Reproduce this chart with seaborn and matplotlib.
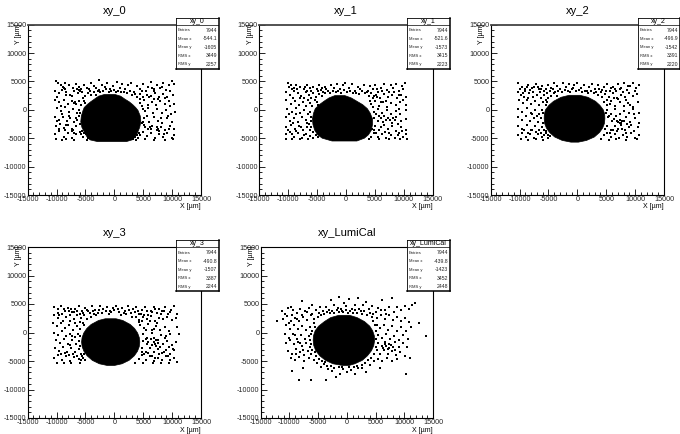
import matplotlib
matplotlib.use('Agg')
import matplotlib.pyplot as plt
import pandas as pd
import seaborn as sns

W, H = 680, 434

titles = ['xy_0', 'xy_1', 'xy_2', 'xy_3', 'xy_LumiCal']
mean_x = ['-544.1', '-521.6', '-496.9', '-490.8', '-439.8']
mean_y = ['-1605', '-1573', '-1542', '-1507', '-1423']
rms_x = ['3449', '3415', '3391', '3387', '3452']
rms_y = ['2257', '2223', '2220', '2244', '2448']
entries = '7944'

major_ticks = [-15000, -10000, -5000, 0, 5000, 10000, 15000]
major_labels = ['-15000', '-10000', '-5000', '0', '5000', '10000', '15000']
minor_ticks = [-14000, -13000, -12000, -11000, -9000, -8000, -7000, -6000, -4000, -3000, -2000, -1000,
               1000, 2000, 3000, 4000, 6000, 7000, 8000, 9000, 11000, 12000, 13000, 14000]

core_0 = [(2800, -1800, 0), (2500, -2800, 1000), (2000, -3500, 1700), (1500, -4200, 2500), (1000, -4800, 3100),
          (500, -5300, 3600), (0, -5500, 4000), (-1000, -5800, 4400), (-2000, -5900, 4500), (-3000, -5700, 4300),
          (-4000, -5200, 3900), (-4700, -4800, 3500), (-5200, -4300, 3000), (-5500, -3000, 2000)]
core_1 = [(2600, -2000, -300), (2200, -3000, 800), (1600, -3900, 1800), (1000, -4700, 2800), (300, -5400, 3600),
          (-500, -5700, 4100), (-1500, -5900, 4500), (-2500, -5800, 4500), (-3500, -5500, 4300), (-4300, -5000, 3800),
          (-4900, -4200, 3100), (-5400, -2500, 1800)]
core_2 = [(2650, -1500, 350), (2300, -2900, 1750), (1600, -4200, 3050), (900, -5000, 3800), (100, -5600, 4400),
          (-700, -5800, 4650), (-1450, -5830, 4680), (-2300, -5750, 4600), (-3100, -5450, 4300), (-3900, -4900, 3750),
          (-4700, -4000, 2850), (-5300, -2700, 1500), (-5600, -1200, 100)]
core_3 = [(2500, -1640, 200), (2200, -2810, 1370), (1500, -4100, 2660), (800, -4850, 3410), (0, -5380, 3940),
          (-800, -5670, 4230), (-1580, -5760, 4320), (-2400, -5660, 4220), (-3200, -5360, 3920), (-4000, -4800, 3370),
          (-4800, -3900, 2460), (-5400, -2680, 1240), (-5700, -1300, -100)]
core_4 = [(3100, -1500, 400), (2700, -2900, 1700), (2000, -4000, 3000), (1200, -5000, 3900), (400, -5600, 4400),
          (-500, -5900, 4700), (-1300, -5950, 4750), (-2200, -5850, 4600), (-3100, -5500, 4200), (-4000, -4800, 3500),
          (-4800, -3800, 2600), (-5400, -2500, 1300), (-5700, -800, 300)]
cores = [core_0, core_1, core_2, core_3, core_4]

# points outside the core, x and y in units of 100 um
pts_0 = [(-101, 51), (-98, 48), (-93, 44), (-89, 41), (-85, 47), (-78, 43), (-72, 39), (-66, 46), (-61, 41), (-57, 37),
         (-52, 44), (-47, 39), (-41, 47), (-36, 42), (-31, 38), (-26, 52), (-22, 44), (-17, 40), (-12, 47), (-7, 36),
         (-2, 42), (4, 49), (9, 38), (14, 45), (19, 36), (24, 43), (29, 47), (34, 32), (39, 42), (44, 37),
         (49, 46), (54, 33), (59, 40), (64, 49), (69, 36), (74, 44), (79, 39), (84, 47), (89, 35), (94, 43),
         (99, 50), (104, 46), (-103, 33), (-96, 29), (-91, 35), (-84, 31), (-76, 27), (-69, 33), (-63, 29), (-56, 32),
         (-51, 24), (-46, 30), (-41, 26), (-36, 31), (-32, 27), (39, 23), (44, 28), (50, 22), (57, 27), (63, 24),
         (71, 29), (78, 22), (85, 28), (92, 23), (101, 27), (-102, 18), (-95, 13), (-88, 17), (-81, 11), (-74, 16),
         (-67, 10), (-61, 15), (-57, 9), (45, 12), (51, 17), (58, 9), (65, 14), (72, 8), (79, 15), (87, 10),
         (95, 16), (104, 11), (-100, 3), (-92, -2), (-85, 5), (-79, -4), (-72, 1), (-65, -6), (53, -2), (59, 4),
         (67, -5), (74, 2), (82, -6), (90, 0), (98, -7), (105, -3), (-103, -12), (-96, -18), (-89, -13), (-82, -20),
         (-76, -15), (-69, -22), (-62, -11), (52, -14), (60, -21), (68, -12), (75, -19), (83, -24), (91, -15), (100, -22),
         (-101, -29), (-94, -25), (-87, -32), (-80, -27), (-73, -34), (-66, -29), (-60, -25), (51, -27), (58, -33), (66, -28),
         (73, -35), (80, -30), (88, -36), (96, -28), (103, -33), (-102, -42), (-95, -38), (-88, -47), (-81, -41), (-74, -50),
         (-67, -43), (-60, -39), (-54, -47), (-49, -42), (45, -45), (41, -50), (50, -39), (57, -46), (64, -41), (71, -50),
         (78, -43), (85, -48), (92, -40), (99, -49), (104, -44), (-101, -52), (-91, -53), (-83, -52), (-70, -53), (38, -53),
         (53, -52), (68, -53), (88, -53), (102, -52),
         (-88, 38), (-86, 36), (-64, 37), (-62, 35), (-59, 33), (-44, 36), (-43, 33), (-29, 33), (-27, 35), (-24, 31),
         (-19, 33), (-14, 36), (-9, 31), (-6, 33), (-1, 35), (3, 32), (7, 34), (12, 31), (17, 32), (22, 30),
         (27, 33), (31, 26), (36, 28), (47, 33), (66, 38), (68, 33), (82, 41), (-70, 12), (-68, 14), (-55, 20),
         (-53, 16), (-50, 12), (44, 19), (47, 7), (49, 2), (-61, 0), (-59, -5), (-64, -17), (-66, -14), (47, -24),
         (49, -21), (53, -31), (62, -30), (64, -33), (76, -34), (78, -37), (74, -31), (-74, -38), (-71, -36), (-69, -40),
         (-58, -43), (-56, -37), (-52, -41), (40, -45), (43, -41), (-46, -50), (-47, -53), (32, -51), (35, -48), (-99, 22),
         (-83, 26), (-74, 24), (-93, 7), (-90, -8), (-100, -20), (-95, -34), (-85, -36), (96, 34), (87, 20), (76, 19),
         (-78, -10), (-84, -26), (86, -42), (94, -33), (81, -14), (60, 22), (97, 7), (68, 19), (93, -11), (56, -10)]
pts_1 = [(-101, 47), (-95, 43), (-90, 39), (-86, 44), (-80, 41), (-73, 37), (-67, 43), (-62, 38), (-57, 41), (-51, 36),
         (-46, 43), (-41, 38), (-36, 41), (-31, 34), (-26, 44), (-21, 39), (-16, 46), (-11, 37), (-6, 43), (-1, 48),
         (5, 38), (10, 45), (15, 33), (20, 41), (25, 36), (31, 44), (36, 31), (41, 42), (46, 36), (51, 44),
         (56, 32), (61, 39), (66, 46), (71, 35), (77, 43), (82, 38), (87, 46), (92, 34), (97, 42), (102, 48),
         (-104, 32), (-97, 27), (-90, 33), (-83, 29), (-77, 25), (-70, 31), (-64, 26), (-57, 30), (-52, 23), (-47, 28),
         (-42, 24), (-37, 29), (40, 25), (46, 20), (52, 27), (59, 21), (66, 28), (73, 22), (80, 26), (88, 20),
         (95, 27), (103, 23), (-103, 17), (-96, 11), (-89, 15), (-82, 8), (-75, 14), (-69, 6), (-62, 12), (-58, 7),
         (44, 10), (50, 15), (57, 7), (64, 13), (71, 5), (78, 12), (86, 8), (94, 14), (103, 9), (-102, 1),
         (-94, -4), (-87, 3), (-80, -6), (-73, -1), (-66, -8), (49, -3), (56, 1), (63, -6), (71, 0), (78, -8),
         (86, -2), (94, -7), (104, -1), (-104, -13), (-97, -19), (-90, -14), (-83, -21), (-76, -12), (-70, -18), (-64, -25),
         (49, -15), (57, -11), (64, -21), (72, -14), (79, -24), (87, -12), (96, -20), (103, -16), (-103, -30), (-96, -26),
         (-89, -33), (-82, -28), (-75, -35), (-68, -30), (-62, -36), (50, -29), (57, -35), (65, -27), (72, -34), (80, -29),
         (87, -37), (95, -31), (104, -36), (-104, -43), (-97, -39), (-90, -47), (-83, -41), (-76, -49), (-69, -42), (-63, -46),
         (-57, -50), (43, -47), (48, -41), (55, -48), (62, -43), (69, -50), (77, -44), (84, -49), (91, -40), (98, -47),
         (104, -42), (-103, -52), (-93, -52), (-80, -52), (-66, -52), (39, -52), (57, -52), (74, -52), (93, -52), (105, -52),
         (-99, 40), (-93, 36), (-84, 37), (-71, 41), (-68, 34), (-60, 34), (-49, 33), (-44, 35), (-39, 32), (-34, 36),
         (-28, 30), (-23, 33), (-18, 31), (-13, 33), (-8, 30), (-3, 35), (2, 31), (7, 33), (12, 29), (17, 30),
         (22, 28), (28, 33), (33, 29), (38, 34), (44, 30), (48, 24), (54, 36), (63, 33), (75, 31), (-54, 18),
         (-51, 14), (-49, 8), (-61, 20), (-72, 20), (-66, 17), (42, 16), (47, 5), (54, 22), (60, 14), (69, 16),
         (-63, -3), (-61, -13), (-60, -20), (-67, -24), (52, -8), (55, -20), (60, -15), (66, -11), (69, -17), (76, -18),
         (81, -15), (-60, -30), (-57, -39), (-52, -44), (-48, -47), (45, -33), (48, -36), (52, -40), (60, -30), (74, -40),
         (-72, -44), (-86, -38), (-93, -43), (-100, -36), (-92, -24), (-78, -30), (-87, -7), (-98, -8), (-92, 21), (-80, 20),
         (90, -25), (84, -18), (92, 2), (98, 18), (83, 32), (91, 26), (99, 36), (97, -38), (90, -44), (68, -39)]
pts_2 = [(-102, 47), (-96, 41), (-91, 37), (-85, 44), (-79, 39), (-72, 45), (-66, 37), (-61, 42), (-55, 37), (-50, 44),
         (-45, 39), (-40, 47), (-35, 42), (-30, 37), (-25, 48), (-20, 41), (-15, 46), (-10, 36), (-5, 43), (0, 47),
         (6, 38), (11, 44), (16, 34), (21, 41), (26, 46), (31, 37), (36, 43), (41, 32), (46, 40), (51, 46),
         (56, 34), (61, 41), (66, 37), (71, 45), (76, 39), (81, 47), (86, 35), (91, 42), (96, 47), (102, 38),
         (107, 43), (-103, 32), (-97, 27), (-90, 34), (-84, 29), (-77, 32), (-70, 26), (-64, 31), (-58, 26), (-52, 30),
         (-46, 24), (-41, 29), (-36, 25), (36, 27), (42, 22), (48, 28), (55, 23), (62, 29), (69, 21), (76, 27),
         (83, 23), (90, 30), (97, 24), (104, 28), (-101, 18), (-94, 12), (-88, 17), (-81, 10), (-74, 16), (-67, 8),
         (-60, 14), (-55, 8), (46, 14), (52, 9), (59, 16), (66, 7), (73, 13), (80, 6), (88, 12), (96, 5),
         (105, 14), (-102, 2), (-95, -4), (-88, 3), (-81, -5), (-74, 0), (-66, -7), (52, -1), (58, -7), (66, 1),
         (73, -8), (81, -2), (89, -6), (97, 1), (106, -5), (-103, -12), (-96, -18), (-89, -11), (-82, -20), (-75, -14),
         (-68, -22), (53, -13), (60, -20), (67, -11), (73, -24), (78, -19), (84, -13), (91, -21), (99, -15), (106, -23),
         (-102, -28), (-95, -33), (-88, -27), (-81, -35), (-74, -29), (-67, -36), (-61, -31), (52, -29), (59, -35), (66, -28),
         (71, -33), (76, -27), (83, -36), (90, -30), (98, -37), (105, -31), (-103, -44), (-96, -40), (-89, -47), (-82, -42),
         (-75, -49), (-68, -43), (-61, -47), (-55, -41), (-50, -49), (46, -45), (52, -40), (58, -48), (65, -42), (72, -50),
         (79, -44), (86, -48), (93, -41), (100, -49), (106, -45), (-98, -52), (-86, -53), (-72, -52), (-60, -53), (41, -52),
         (55, -53), (67, -52), (84, -53), (104, -52),
         (-99, 36), (-94, 30), (-87, 40), (-82, 35), (-75, 41), (-68, 40), (-63, 36), (-57, 33), (-47, 34), (-42, 36),
         (-38, 32), (-33, 34), (-27, 31), (-22, 35), (-17, 33), (-12, 31), (-7, 39), (-2, 33), (3, 35), (8, 32),
         (13, 34), (18, 30), (23, 33), (28, 29), (33, 31), (38, 36), (43, 35), (49, 34), (58, 38), (67, 33),
         (74, 36), (79, 32), (88, 42), (-50, 20), (-52, 14), (-55, 18), (-63, 21), (-76, 22), (-85, 20), (-92, 22),
         (-62, 0), (-60, -5), (-70, -10), (-78, -8), (-63, -15), (-59, -23), (51, 18), (57, 10), (63, 21), (71, 19),
         (49, -6), (55, -11), (63, -16), (69, -20), (71, -22), (74, -18), (76, -23), (80, -20), (86, -25), (-58, -35),
         (-54, -37), (-51, -44), (-47, -46), (-58, -44), (-63, -40), (-71, -39), (-78, -36), (-85, -41), (-92, -36), (48, -34),
         (56, -41), (62, -35), (69, -38), (78, -33), (84, -41), (93, -26), (98, -8), (92, 9), (84, 17), (99, 33)]
pts_3 = [(-104, 45), (-97, 41), (-92, 46), (-86, 38), (-81, 43), (-74, 36), (-68, 42), (-62, 46), (-56, 37), (-50, 43),
         (-45, 38), (-39, 46), (-34, 40), (-29, 35), (-24, 46), (-19, 41), (-13, 45), (-8, 38), (-3, 43), (3, 46),
         (8, 36), (13, 43), (18, 38), (23, 46), (28, 34), (33, 41), (38, 45), (43, 32), (48, 39), (53, 44),
         (58, 31), (63, 38), (68, 45), (73, 35), (78, 42), (83, 37), (88, 44), (93, 33), (98, 40), (104, 46),
         (109, 33), (-105, 30), (-98, 25), (-91, 33), (-84, 27), (-77, 31), (-70, 24), (-64, 30), (-58, 25), (-52, 31),
         (-47, 23), (-41, 28), (-36, 32), (37, 27), (43, 22), (49, 28), (56, 23), (63, 29), (70, 21), (77, 26),
         (84, 23), (91, 28), (99, 22), (106, 26), (-107, 17), (-100, 11), (-93, 16), (-86, 8), (-79, 13), (-72, 5),
         (-65, 11), (-59, 7), (45, 13), (52, 8), (58, 15), (65, 5), (72, 12), (79, 4), (87, 10), (95, 3),
         (108, 9), (-104, 0), (-97, -5), (-90, 2), (-83, -7), (-76, -2), (-68, -8), (50, -3), (57, -9), (65, -1),
         (69, -9), (72, -14), (80, -4), (88, -9), (96, -2), (112, -3), (-101, -13), (-94, -18), (-87, -11), (-80, -20),
         (-73, -14), (-66, -21), (50, -15), (56, -20), (63, -12), (70, -20), (76, -13), (84, -21), (92, -15), (100, -22),
         (107, -16), (-103, -27), (-96, -32), (-89, -26), (-82, -34), (-75, -28), (-68, -35), (-62, -29), (48, -28), (55, -34),
         (62, -27), (69, -35), (75, -29), (82, -36), (89, -30), (97, -37), (104, -31), (-104, -44), (-97, -40), (-90, -48),
         (-83, -42), (-76, -50), (-69, -43), (-62, -47), (-56, -41), (-50, -49), (42, -46), (48, -40), (54, -48), (61, -42),
         (68, -50), (75, -44), (82, -48), (89, -41), (96, -49), (103, -44), (108, -52), (-100, -53), (-88, -53), (-75, -54),
         (-60, -53), (36, -54), (50, -54), (67, -53), (81, -54), (94, -53),
         (-98, 34), (-95, 31), (-88, 41), (-79, 37), (-75, 42), (-70, 36), (-65, 38), (-60, 33), (-54, 34), (-48, 40),
         (-43, 35), (-37, 37), (-32, 30), (-26, 40), (-21, 34), (-15, 38), (-10, 32), (-5, 36), (0, 40), (6, 41),
         (11, 31), (16, 35), (21, 33), (26, 39), (31, 28), (36, 36), (41, 38), (46, 33), (51, 31), (56, 38),
         (66, 36), (71, 41), (81, 32), (86, 38), (96, 36), (-54, 17), (-52, 13), (-60, 19), (-68, 17), (-76, 20),
         (-89, 21), (-63, -2), (-60, -6), (-73, -6), (-62, -15), (-60, -23), (-76, -22), (42, 18), (48, 20), (54, 4),
         (62, 20), (74, 17), (68, 6), (54, -12), (59, -16), (66, -22), (68, -17), (72, -24), (75, -18), (79, -25),
         (-58, -37), (-54, -44), (-52, -38), (-58, -49), (-64, -41), (-71, -37), (-79, -39), (-86, -36), (-92, -38), (47, -34),
         (52, -38), (58, -36), (66, -41), (71, -45), (78, -38), (86, -35), (93, -42), (101, -29), (94, -25), (90, -6)]
pts_4 = [(-122, 21), (-113, 38), (-107, 33), (-103, 43), (-98, 45), (-94, 40), (-87, 35), (-82, 42), (-78, 56), (-73, 37),
         (-66, 43), (-61, 48), (-61, 32), (-54, 40), (-49, 35), (-47, 45), (-42, 38), (-36, 44), (-31, 40), (-27, 57),
         (-22, 48), (-16, 43), (-13, 62), (-9, 38), (-5, 52), (-1, 46), (4, 58), (9, 41), (14, 49), (19, 61),
         (24, 37), (28, 48), (34, 54), (39, 42), (44, 47), (50, 36), (55, 43), (62, 57), (67, 40), (73, 45),
         (79, 61), (82, 36), (88, 44), (94, 40), (101, 47), (108, 42), (114, 49), (118, 51), (-111, 24), (-104, 29),
         (-97, 21), (-90, 26), (-83, 20), (-76, 28), (-69, 22), (-62, 30), (-57, 24), (-51, 27), (46, 32), (52, 26),
         (59, 31), (66, 24), (73, 30), (80, 22), (87, 28), (94, 20), (101, 26), (109, 18), (125, 16), (-106, 13),
         (-99, 7), (-92, 14), (-85, 6), (-78, 11), (-71, 4), (-64, 10), (52, 14), (58, 8), (65, 13), (72, 5),
         (79, 11), (87, 3), (95, 9), (103, 2), (111, 10), (-108, -3), (-101, -9), (-94, -2), (-87, -11), (-80, -5),
         (-73, -12), (-66, -7), (54, -4), (61, -10), (68, -3), (75, -11), (82, -6), (90, -13), (98, -5), (106, -12),
         (138, -6), (-106, -18), (-99, -14), (-92, -21), (-85, -16), (-78, -24), (-71, -18), (-65, -26), (54, -18), (61, -23),
         (67, -16), (73, -27), (77, -22), (83, -16), (90, -25), (97, -19), (105, -26), (-103, -32), (-96, -38), (-89, -29),
         (-82, -35), (-75, -40), (-68, -32), (-62, -38), (52, -31), (58, -37), (65, -30), (72, -38), (79, -33), (86, -40),
         (93, -34), (101, -41), (110, -44), (-98, -45), (-90, -49), (-83, -43), (-74, -50), (-66, -44), (-58, -48), (-52, -53),
         (-45, -60), (-38, -52), (-32, -64), (-26, -67), (-19, -78), (-12, -72), (-6, -64), (0, -70), (8, -66), (15, -73),
         (20, -63), (27, -62), (34, -69), (41, -57), (47, -50), (54, -47), (62, -50), (70, -44), (78, -50), (88, -46),
         (-95, -67), (-84, -84), (-63, -84), (-36, -83), (103, -73), (57, -62), (-76, -62),
         (-45, 30), (-40, 33), (-35, 36), (-30, 34), (-26, 38), (-22, 35), (-18, 39), (-14, 36), (-10, 42), (-6, 36),
         (-2, 39), (2, 34), (6, 37), (10, 35), (14, 40), (18, 35), (22, 42), (26, 33), (30, 38), (35, 31),
         (40, 35), (44, 28), (-58, 16), (-56, 9), (-60, 3), (-63, -2), (-64, -14), (-62, -20), (-60, -30), (-56, -35),
         (-53, -41), (-48, -46), (-44, -50), (-40, -56), (-34, -58), (-28, -59), (-22, -62), (-14, -60), (-8, -61), (4, -60),
         (12, -60), (18, -59), (26, -57), (32, -54), (36, -49), (42, -44), (47, -37), (50, -26), (51, -12), (50, 3),
         (49, 14), (46, 21), (63, -28), (68, -24), (71, -29), (74, -20), (80, -26), (66, -20), (84, -30), (-70, 36),
         (-78, 30), (-86, 24), (-95, 30), (-101, 17), (-82, -18), (-90, -4), (-76, -30), (-88, -38), (60, 40), (68, 33)]
points = [pts_0, pts_1, pts_2, pts_3, pts_4]

# pixel boxes of the frames: left, right, top, bottom
frames = [(27.7, 201, 24.7, 195), (259.3, 432.7, 24.7, 195), (490.7, 664, 24.7, 195),
          (27.7, 201, 247, 418), (260.7, 433, 247, 418)]
boxes = [(175.5, 219, 17.5, 69), (406.7, 450, 17.5, 69), (638, 679.5, 17.5, 69),
         (175.5, 219, 240, 291), (406.7, 450, 240, 291)]

sns.set_theme(style='ticks')
plt.rcParams['font.family'] = ['Liberation Sans', 'DejaVu Sans']
plt.rcParams['text.color'] = 'black'

fig = plt.figure(figsize=(W / 100, H / 100), dpi=100, facecolor='white')

for i in range(5):
    l, r, t, b = frames[i]
    ax = fig.add_axes([l / W, 1 - b / H, (r - l) / W, (b - t) / H])
    ax.set_facecolor('white')

    core = pd.DataFrame(cores[i], columns=['y', 'left', 'right'])
    ax.fill_betweenx(core['y'], core['left'], core['right'], color='black', lw=0.5)

    df = pd.DataFrame(points[i], columns=['x', 'y']) * 100
    sns.scatterplot(data=df, x='x', y='y', ax=ax, color='black', marker='s', s=1.5, linewidth=0, legend=False)

    ax.set_xlim(-15000, 15000)
    ax.set_ylim(-15000, 15000)
    ax.set_xticks(major_ticks)
    ax.set_xticklabels(major_labels)
    ax.set_yticks(major_ticks)
    ax.set_yticklabels(major_labels)
    ax.set_xticks(minor_ticks, minor=True)
    ax.set_yticks(minor_ticks, minor=True)
    ax.tick_params(which='major', direction='in', length=4.2, width=0.6, labelsize=5.2, pad=1, color='black')
    ax.tick_params(which='minor', direction='in', length=2.2, width=0.6, color='black')
    ax.set_xlabel('')
    ax.set_ylabel('')
    for s in ax.spines.values():
        s.set_linewidth(0.8)
        s.set_color('black')
    if i < 3:
        ax.spines['top'].set_linewidth(1.3)
        ax.spines['top'].set_color('#444444')

    fig.text((l + r) / 2 / W, 1 - (t - 14) / H, titles[i], fontsize=8, ha='center', va='center')
    fig.text(r / W, 1 - (b + 12) / H, 'X [\u00b5m]', fontsize=5, ha='right', va='center')
    fig.text((l - 9) / W, 1 - (t - 1) / H, 'Y [\u00b5m]', fontsize=5, ha='center', va='top', rotation=90)

    # stats box in the ROOT style
    bl, br, bt, bb = boxes[i]
    box = fig.add_axes([bl / W, 1 - bb / H, (br - bl) / W, (bb - bt) / H], zorder=5)
    box.set_facecolor('white')
    box.set_xlim(bl, br)
    box.set_ylim(bb, bt)
    box.set_xticks([])
    box.set_yticks([])
    for s in box.spines.values():
        s.set_linewidth(0.6)
        s.set_color('black')
    box.spines['right'].set_linewidth(1.1)
    box.spines['bottom'].set_linewidth(1.1)
    box.axhline(bt + 7, color='black', lw=0.5)
    box.text((bl + br) / 2, bt + 3.8, titles[i], fontsize=5, ha='center', va='center')
    labels = ['Entries', 'Mean x', 'Mean y', 'RMS x', 'RMS y']
    values = [entries, mean_x[i], mean_y[i], rms_x[i], rms_y[i]]
    for k in range(5):
        yy = bt + 12.6 + k * 8.6
        box.text(bl + 2, yy, labels[k], fontsize=3, ha='left', va='center', color='#222222')
        box.text(br - 1.5, yy, values[k], fontsize=3.7, ha='right', va='center', color='#222222')

fig.savefig('out.png', dpi=100)
